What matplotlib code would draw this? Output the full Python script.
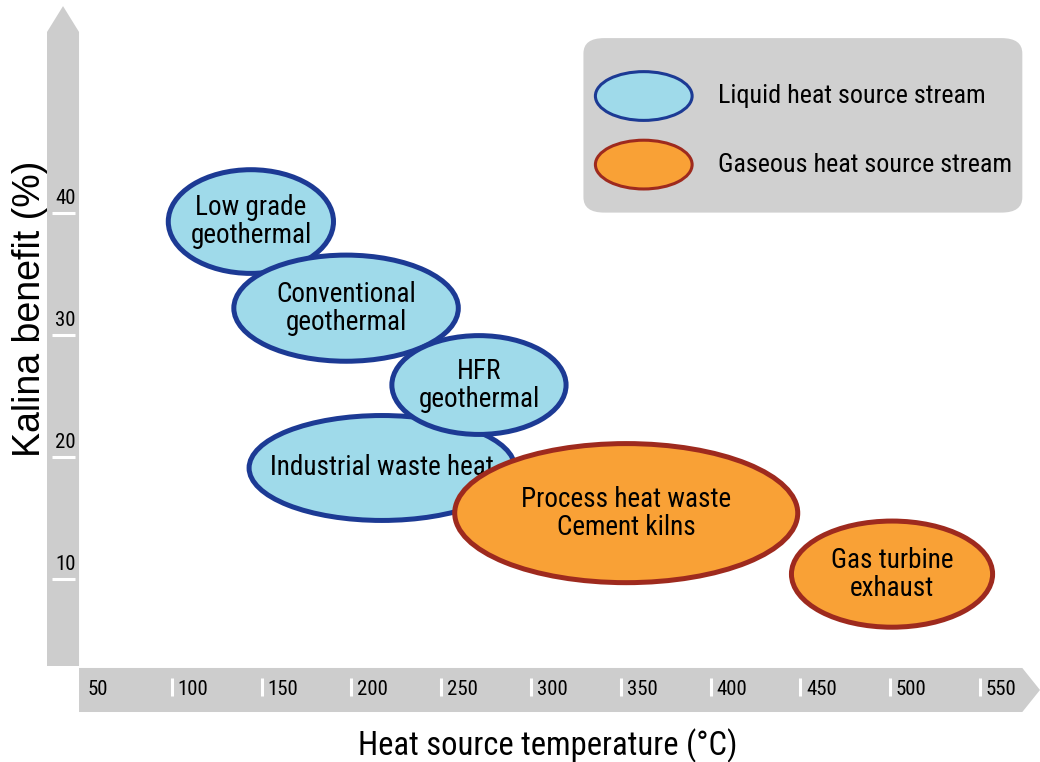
import matplotlib
matplotlib.use("Agg")
import matplotlib.pyplot as plt
from matplotlib import font_manager
from matplotlib.patches import Ellipse, Polygon, FancyBboxPatch

# heat source regions: centre temperature, centre benefit, width, height
names = ["Low grade\ngeothermal", "Conventional\ngeothermal", "Industrial waste heat",
         "HFR\ngeothermal", "Process heat waste\nCement kilns", "Gas turbine\nexhaust"]
kinds = ["liquid", "liquid", "liquid", "liquid", "gas", "gas"]
temp_centre = [144, 197, 217, 271, 353, 501]
benefit_centre = [39.3, 32.2, 19.1, 25.9, 15.4, 10.4]
temp_width = [92, 125, 148, 97, 191, 112]
benefit_height = [8.5, 8.7, 8.6, 8.1, 11.4, 8.7]

x_ticks = [50, 100, 150, 200, 250, 300, 350, 400, 450, 500, 550]
y_ticks = [10, 20, 30, 40]

legend_labels = ["Liquid heat source stream", "Gaseous heat source stream"]


def pickNarrowFont():
    fonts = font_manager.fontManager.ttflist
    names_found = {f.name for f in fonts}
    for n in ["Liberation Sans Narrow", "Arial Narrow", "Roboto Condensed",
              "Open Sans Condensed", "Noto Sans Condensed", "DejaVu Sans Condensed"]:
        if n in names_found:
            return n, "normal", 1.0
    for f in fonts:
        if f.name in ("Noto Sans", "Roboto", "Open Sans", "DejaVu Sans") and \
                str(f.stretch) in ("condensed", "extra-condensed", "ultra-condensed", "semi-condensed"):
            return f.name, f.stretch, 0.95
    return "Liberation Sans", "normal", 0.86


narrow_name, narrow_stretch, size_k = pickNarrowFont()
narrow = dict(family=[narrow_name, "DejaVu Sans"], fontstretch=narrow_stretch)

grey = "#cdcdcd"
colours = {"liquid": ("#9fdaea", "#1c3a94"), "gas": ("#f9a136", "#9e2a1e")}

fig = plt.figure(figsize=(10.4, 7.62), dpi=100)
ax = fig.add_axes([0, 0, 1, 1])
ax.set_xlim(4.3, 583.4)
ax.set_ylim(-5.0, 57.46)
ax.axis("off")

# axis arrows (axes fraction)
ax.add_patch(Polygon([[0.0452, 0.126], [0.076, 0.126], [0.076, 0.958], [0.0606, 0.992], [0.0452, 0.958]],
                     closed=True, transform=ax.transAxes, facecolor=grey, edgecolor="none", zorder=1))
ax.add_patch(Polygon([[0.076, 0.0656], [0.983, 0.0656], [1.0, 0.0945], [0.983, 0.1234], [0.076, 0.1234]],
                     closed=True, transform=ax.transAxes, facecolor=grey, edgecolor="none", zorder=1))

# white tick marks and labels
for t in x_ticks:
    if t != x_ticks[0]:
        ax.plot([t, t], [0.4, 1.85], color="white", lw=2.2, zorder=2, solid_capstyle="butt")
    ax.text(t + 3.2, 0.95, str(t), fontsize=15 * size_k, ha="left", va="center", zorder=3, **narrow)
for t in y_ticks:
    ax.plot([33, 46], [t, t], color="white", lw=2.2, zorder=2, solid_capstyle="butt")
    ax.text(35, t + 0.4, str(t), fontsize=15 * size_k, ha="left", va="bottom", zorder=3, **narrow)

ax.text(0.527, 0.022, "Heat source temperature (°C)", transform=ax.transAxes,
        fontsize=23.5 * size_k, ha="center", va="center", **narrow)
ax.text(0.029, 0.595, "Kalina benefit (%)", transform=ax.transAxes, rotation=90,
        family=["Liberation Sans", "DejaVu Sans"], fontsize=27, ha="center", va="center")

# ellipses
for i in range(len(names)):
    face, edge = colours[kinds[i]]
    z = 4 + 2 * i
    ax.add_patch(Ellipse((temp_centre[i], benefit_centre[i]), temp_width[i], benefit_height[i],
                         facecolor=face, edgecolor=edge, lw=3.6, zorder=z))
    ax.text(temp_centre[i], benefit_centre[i], names[i], fontsize=19.5 * size_k,
            ha="center", va="center", linespacing=1.05, zorder=z + 1, **narrow)

# legend box
ax.add_patch(FancyBboxPatch((0.575, 0.735), 0.394, 0.201, boxstyle="round,pad=0.014,rounding_size=0.02",
                            transform=ax.transAxes, facecolor="#d0d0d0", edgecolor="none", zorder=20))
legend_y = [0.874, 0.784]
for label, kind, ly in zip(legend_labels, ["liquid", "gas"], legend_y):
    face, edge = colours[kind]
    ax.add_patch(Ellipse((0.619, ly), 0.093, 0.064, transform=ax.transAxes,
                         facecolor=face, edgecolor=edge, lw=2.2, zorder=21))
    ax.text(0.690, ly, label, transform=ax.transAxes, fontsize=18.8 * size_k,
            ha="left", va="center", zorder=22, **narrow)

fig.savefig("out.png", dpi=100)
